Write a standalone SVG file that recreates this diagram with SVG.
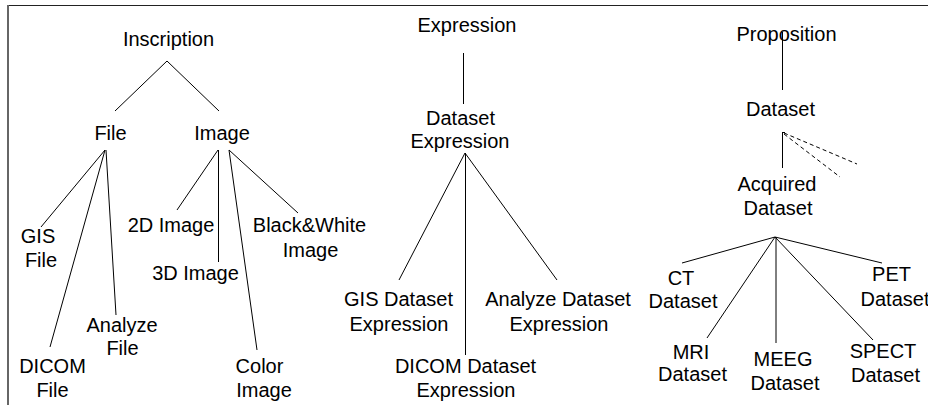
<svg xmlns="http://www.w3.org/2000/svg" width="928" height="405" viewBox="0 0 928 405">
<style>
text{font-family:"Liberation Sans",Arial,Helvetica,sans-serif;font-size:20px;fill:#000;text-anchor:middle}
.c line{stroke:#000;stroke-width:1;fill:none}
.c line.d{stroke-dasharray:4 3}
</style>
<rect width="928" height="405" fill="#fff"/>
<g id="frame">
<line x1="7" y1="5.5" x2="928" y2="5.5" stroke="#222" stroke-width="1"/>
<line x1="8" y1="5" x2="8" y2="405" stroke="#666" stroke-width="2"/>
</g>
<g class="c" id="connectors">
<line x1="167" y1="61" x2="115" y2="111"/>
<line x1="167" y1="61" x2="219" y2="111"/>
<line x1="105" y1="150" x2="41" y2="227"/>
<line x1="105" y1="150" x2="50" y2="347"/>
<line x1="106" y1="150" x2="116" y2="315"/>
<line x1="218" y1="150" x2="177" y2="210"/>
<line x1="218.5" y1="150" x2="218.5" y2="262"/>
<line x1="229" y1="150" x2="257" y2="350"/>
<line x1="229" y1="150" x2="298" y2="213"/>
<line x1="463.5" y1="53" x2="463.5" y2="104"/>
<line x1="465" y1="153" x2="399" y2="280"/>
<line x1="465.5" y1="153" x2="465.5" y2="355"/>
<line x1="465" y1="153" x2="557" y2="280"/>
<line x1="782.5" y1="32" x2="782.5" y2="90"/>
<line x1="782.5" y1="132" x2="782.5" y2="168"/>
<line x1="782" y1="132.5" x2="785" y2="132.5"/>
<line class="d" x1="784" y1="133" x2="857" y2="164"/>
<line class="d" x1="784" y1="134" x2="840" y2="177"/>
<line x1="775" y1="237" x2="682" y2="263"/>
<line x1="775" y1="237" x2="707" y2="338"/>
<line x1="776" y1="237" x2="776" y2="343"/>
<line x1="775" y1="237" x2="873" y2="340"/>
<line x1="775" y1="237" x2="882" y2="263"/>
</g>
<g id="inscription"><text x="168.5" y="46">Inscription</text></g>
<g id="file"><text x="110.5" y="140">File</text></g>
<g id="image"><text x="222" y="140">Image</text></g>
<g id="gis-file"><text><tspan x="38" y="243">GIS</tspan><tspan x="41" y="267">File</tspan></text></g>
<g id="dicom-file"><text><tspan x="52.5" y="373">DICOM</tspan><tspan x="52.5" y="397">File</tspan></text></g>
<g id="analyze-file"><text><tspan x="122" y="332">Analyze</tspan><tspan x="122.5" y="355">File</tspan></text></g>
<g id="image-2d"><text x="171" y="232">2D Image</text></g>
<g id="image-3d"><text x="195.5" y="280">3D Image</text></g>
<g id="color-image"><text><tspan x="259.5" y="373">Color</tspan><tspan x="264" y="397">Image</tspan></text></g>
<g id="bw-image"><text><tspan x="309.5" y="232">Black&amp;White</tspan><tspan x="310.5" y="257">Image</tspan></text></g>
<g id="expression"><text x="467" y="32">Expression</text></g>
<g id="dataset-expression"><text><tspan x="460.5" y="125">Dataset</tspan><tspan x="460" y="148">Expression</tspan></text></g>
<g id="gis-dataset-expression"><text><tspan x="398.5" y="306">GIS Dataset</tspan><tspan x="399" y="331">Expression</tspan></text></g>
<g id="dicom-dataset-expression"><text><tspan x="465.5" y="373">DICOM Dataset</tspan><tspan x="466" y="397">Expression</tspan></text></g>
<g id="analyze-dataset-expression"><text><tspan x="558" y="306">Analyze Dataset</tspan><tspan x="559" y="331">Expression</tspan></text></g>
<g id="proposition"><text x="786.5" y="41">Proposition</text></g>
<g id="dataset"><text x="780.5" y="116">Dataset</text></g>
<g id="acquired-dataset"><text><tspan x="777" y="191">Acquired</tspan><tspan x="778" y="215">Dataset</tspan></text></g>
<g id="ct-dataset"><text><tspan x="681" y="285">CT</tspan><tspan x="683" y="308">Dataset</tspan></text></g>
<g id="pet-dataset"><text><tspan x="891.5" y="281">PET</tspan><tspan x="895" y="306">Dataset</tspan></text></g>
<g id="mri-dataset"><text><tspan x="691" y="359">MRI</tspan><tspan x="692.5" y="381">Dataset</tspan></text></g>
<g id="meeg-dataset"><text><tspan x="783" y="366">MEEG</tspan><tspan x="785" y="390">Dataset</tspan></text></g>
<g id="spect-dataset"><text><tspan x="883" y="358">SPECT</tspan><tspan x="885.5" y="382">Dataset</tspan></text></g>
</svg>
